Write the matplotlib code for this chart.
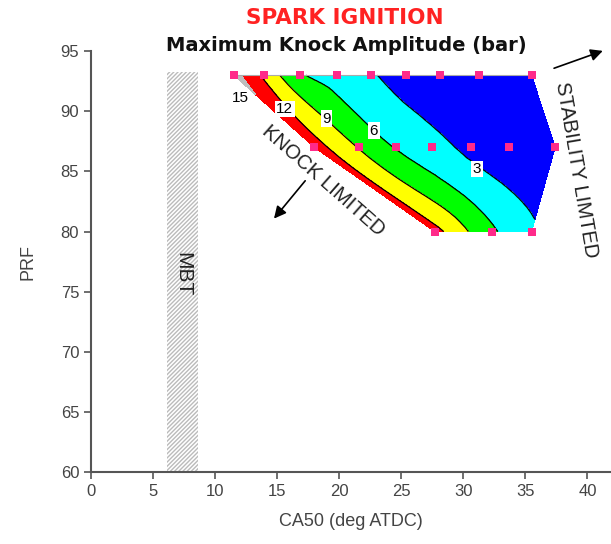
import matplotlib
matplotlib.use('Agg')
import matplotlib.pyplot as plt
import matplotlib.tri as mtri
from matplotlib.patches import Rectangle

plt.rcParams['font.family'] = ['Liberation Sans', 'DejaVu Sans']

# measured operating points: three PRF rows, CA50 positions and knock amplitude (bar)
prf_rows = [93, 87, 80]
ca50_top = [11.5, 13.9, 16.8, 19.8, 22.6, 25.4, 28.1, 31.3, 35.5]
amp_top = [16.2, 11.5, 6.5, 4.8, 3.2, 2.3, 1.8, 1.5, 1.2]
ca50_mid = [18.0, 21.6, 24.6, 27.5, 30.6, 33.7, 37.4]
amp_mid = [13.5, 8.8, 5.8, 4.0, 2.4, 1.6, 1.2]
ca50_low = [27.7, 32.3, 35.5]
amp_low = [13.0, 6.5, 3.6]

levels = [0, 3, 6, 9, 12, 15, 20]
band_colors = ['#0000FF', '#00FFFF', '#00FF00', '#FFFF00', '#FF0000', '#BEBEBE']
label_levels = ['15', '12', '9', '6', '3']
label_x = [12.0, 15.6, 19.0, 22.8, 31.1]
label_y = [91.1, 90.2, 89.4, 88.4, 85.2]

x = ca50_top + ca50_mid + ca50_low
y = [prf_rows[0]] * len(ca50_top) + [prf_rows[1]] * len(ca50_mid) + [prf_rows[2]] * len(ca50_low)
z = amp_top + amp_mid + amp_low
tri = mtri.Triangulation(x, y)
# smoother contours, like the original contouring software
refiner = mtri.UniformTriRefiner(tri)
tri_f, z_f = refiner.refine_field(z, subdiv=3)

fig = plt.figure(figsize=(6.11, 5.44), dpi=100)
ax = fig.add_axes([0.149, 0.132, 0.851, 0.774])

ax.tricontourf(tri_f, z_f, levels=levels, colors=band_colors, zorder=2)
ax.tricontour(tri_f, z_f, levels=[3, 6, 9, 12], colors='black', linewidths=0.9, zorder=3)
ax.plot(ca50_top, [prf_rows[0]] * len(ca50_top), color='#AAAAAA', lw=0.8, zorder=3)
ax.plot(x, y, 's', color='#FF2A8A', markersize=6, markeredgewidth=0, zorder=5, clip_on=False)

for lab, lx, ly in zip(label_levels, label_x, label_y):
    box = None if lab == '15' else dict(facecolor='white', edgecolor='none', pad=1)
    ax.text(lx, ly, lab, fontsize=11, ha='center', va='center', bbox=box, zorder=6)

# MBT band
ax.add_patch(Rectangle((6.1, 60), 2.5, 33.3, facecolor='none', edgecolor='#BBBBBB',
                       hatch='////////', linewidth=0, zorder=1))
ax.text(7.4, 76.5, 'MBT', rotation=-90, fontsize=15, color='#222222',
        ha='center', va='center', zorder=2)

# annotations
ax.text(18.7, 84.2, 'KNOCK LIMITED', rotation=-41.5, fontsize=14.5, color='#222222',
        ha='center', va='center', rotation_mode='anchor')
ax.annotate('', xy=(14.6, 80.9), xytext=(17.4, 84.4),
            arrowprops=dict(arrowstyle='-|>', color='black', lw=1.2, mutation_scale=18))
ax.text(39.1, 85.1, 'STABILITY LIMTED', rotation=-80.4, fontsize=14.5, color='#222222',
        ha='center', va='center', rotation_mode='anchor', clip_on=False)
ax.annotate('', xy=(41.45, 95.1), xytext=(37.1, 93.5), annotation_clip=False,
            arrowprops=dict(arrowstyle='-|>', color='black', lw=1.2, mutation_scale=18))

ax.set_xlim(0, 41.9)
ax.set_ylim(60, 95)
ax.set_xticks(range(0, 45, 5))
ax.set_yticks(range(60, 100, 5))
for s in ['top', 'right']:
    ax.spines[s].set_visible(False)
for s in ['left', 'bottom']:
    ax.spines[s].set_color('#555555')
    ax.spines[s].set_linewidth(1.5)
ax.tick_params(direction='out', length=5, width=1.2, color='#555555',
               labelcolor='#444444', labelsize=12)
ax.set_xlabel('CA50 (deg ATDC)', fontsize=13, color='#444444', labelpad=10)
ax.set_ylabel('PRF', fontsize=13, color='#444444', labelpad=17)

fig.text(0.564, 0.967, 'SPARK IGNITION', color='#FF2222', fontsize=15.5,
         fontweight='bold', ha='center', va='center', family='DejaVu Sans')
fig.text(0.567, 0.917, 'Maximum Knock Amplitude (bar)', color='#111111', fontsize=14,
         fontweight='bold', ha='center', va='center', family='DejaVu Sans')

fig.savefig('out.png', dpi=100)
